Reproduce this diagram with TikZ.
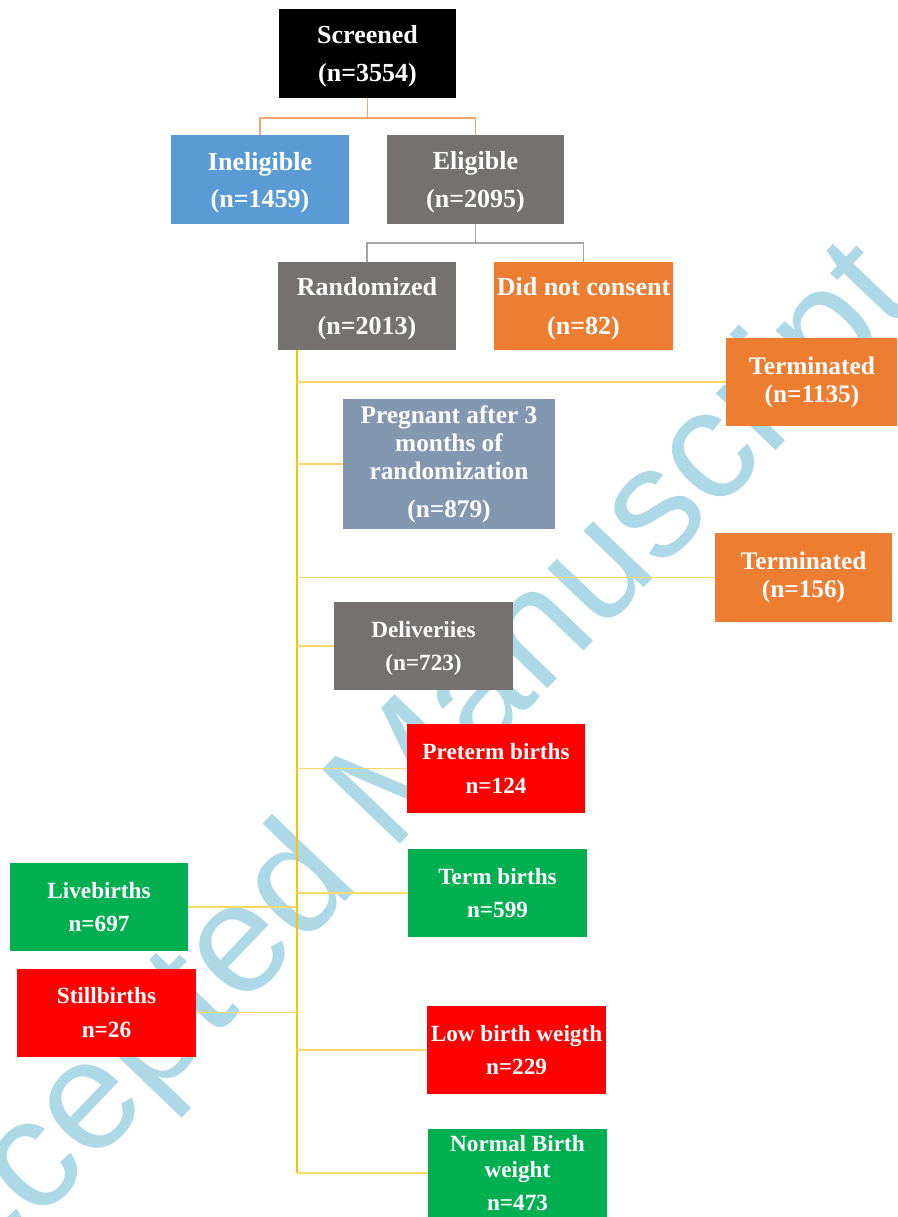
\documentclass[tikz,border=0pt]{standalone}
\usepackage{fontspec}
\setmainfont{Liberation Serif}
\newfontfamily\wmfont{Liberation Sans}
\usetikzlibrary{positioning}
\definecolor{boxgray}{HTML}{767171}
\definecolor{boxblue}{HTML}{5B9BD5}
\definecolor{boxorange}{HTML}{ED7D31}
\definecolor{boxslate}{HTML}{8497B0}
\definecolor{boxred}{HTML}{FF0000}
\definecolor{boxgreen}{HTML}{00B050}
\definecolor{trunkgold}{HTML}{FFC000}
\definecolor{branchgold}{HTML}{FFD966}
\definecolor{linkorange}{HTML}{F4A46E}
\definecolor{linkgray}{HTML}{A6A6A6}
\definecolor{wmblue}{HTML}{ADD8E6}
\tikzset{
  box/.style={rectangle, fill=#1, text=white, inner sep=0pt, align=center,
    minimum width=4.45cm, minimum height=2.2cm},
  big/.style={font=\bfseries\fontsize{18.5}{27.5}\selectfont, text depth=0pt},
  mid/.style={font=\bfseries\fontsize{18}{20}\selectfont},
  small/.style={font=\bfseries\fontsize{16.5}{24}\selectfont},
  tline/.style={draw=trunkgold, line width=1.2pt},
  bline/.style={draw=branchgold, line width=1.2pt},
}
\begin{document}
\begin{tikzpicture}[x=0.025cm,y=-0.025cm]
\useasboundingbox (0,0) rectangle (897,1217);
\clip (0,0) rectangle (897,1217);
% watermark
\node[text=wmblue, rotate=46.3, font=\wmfont\fontsize{111}{111}\selectfont] (wm) at (386,800) {Accepted Manuscript};
% top of the chart
\node[box=black, big, minimum width=4.425cm] (scr) at (367.5,53.5) {Screened\\(n=3554)};
\node[box=boxblue, big, font=\bfseries\fontsize{18.5}{26.3}\selectfont] (inel) at (260,179.5) {Ineligible\\(n=1459)};
\node[box=boxgray, big, minimum width=4.425cm] (elig) at (475.5,179.5) {Eligible\\(n=2095)};
\node[box=boxgray, big] (rand) at (367,306) {Randomized\\(n=2013)};
\node[box=boxorange, big, minimum width=4.475cm] (dnc) at (583.5,306) {Did not consent\\(n=82)};
% follow up
\node[box=boxorange, mid, minimum width=4.3cm] (term1) at (812,382) {Terminated\\(n=1135)};
\node[box=boxslate, mid, minimum width=5.3cm, minimum height=3.25cm] (preg) at (449,464)
  {Pregnant after 3\\months of\\randomization\\[7pt](n=879)};
\node[box=boxorange, mid, minimum width=4.425cm] (term2) at (803.5,577.5) {Terminated\\(n=156)};
\node[box=boxgray, small, text depth=0pt] (deliv) at (423.5,646) {Deliveriies\\(n=723)};
% outcomes
\node[box=boxred, small] (pre) at (496,768.5) {Preterm births\\n=124};
\node[box=boxgreen, small, minimum width=4.475cm] (term) at (497.5,893) {Term births\\n=599};
\node[box=boxgreen, small] (live) at (99,907) {Livebirths\\n=697};
\node[box=boxred, small, minimum width=4.475cm] (still) at (106.5,1012.5) {Stillbirths\\n=26};
\node[box=boxred, small, minimum width=4.475cm] (low) at (516.5,1050) {Low birth weigth\\n=229};
\node[box=boxgreen, small, minimum width=4.475cm, font=\bfseries\fontsize{16.5}{18.5}\selectfont] (nbw) at (517.5,1173)
  {Normal Birth\\weight\\[5.5pt]n=473};
% connectors
\draw[linkorange, line width=1.2pt] (scr.south) -- ++(0,20) coordinate (s1);
\draw[linkorange, line width=1.2pt] (inel.north) |- (s1) -| (elig.north);
\draw[linkgray, line width=1.2pt] (elig.south) -- ++(0,19) coordinate (e1);
\draw[linkgray, line width=1.2pt] (rand.north) |- (e1) -| (dnc.north);
\coordinate (ttop) at (297,350);
\draw[tline] (ttop) -- (ttop |- nbw.west);
\foreach \n in {term1,preg,term2,deliv,pre,term,low,nbw}
  \draw[bline] (ttop |- \n.west) -- (\n.west);
\foreach \n in {live,still}
  \draw[bline] (\n.east) -- (ttop |- \n.east);
\end{tikzpicture}
\end{document}
